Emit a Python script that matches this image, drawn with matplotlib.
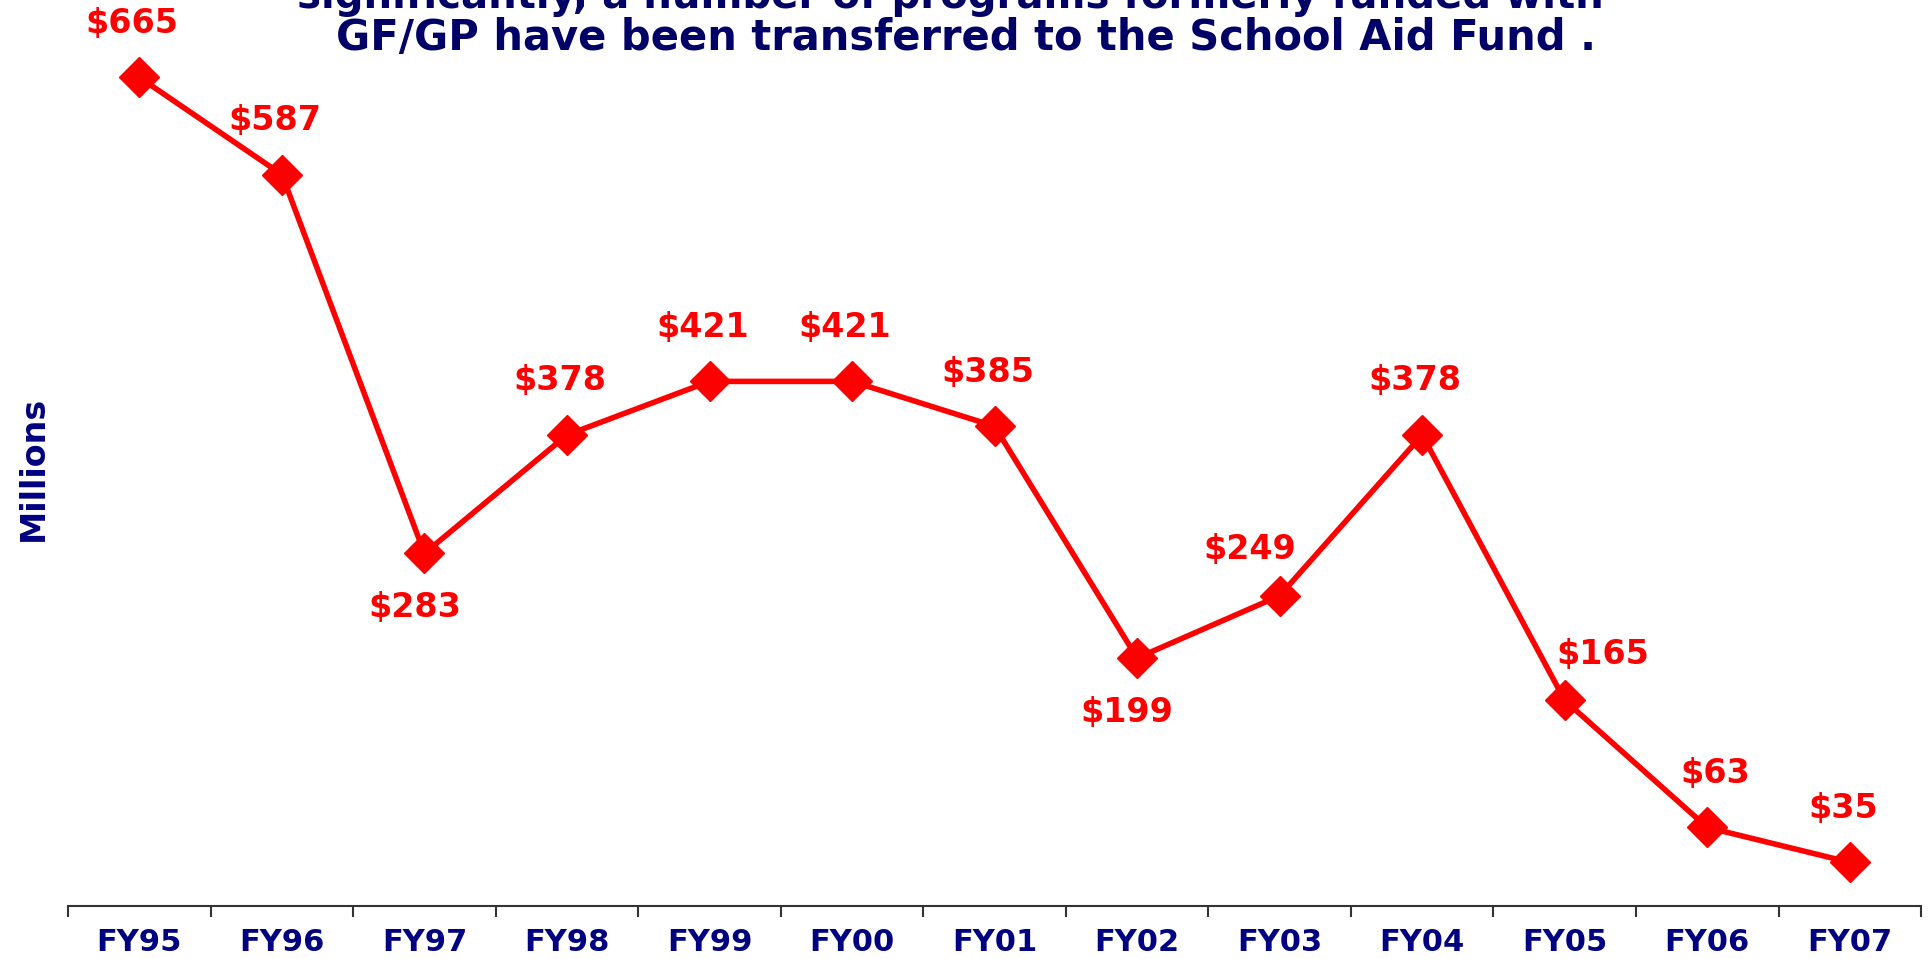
#!/usr/bin/env python3
import matplotlib
matplotlib.use('Agg')
import matplotlib.pyplot as plt
import numpy as np

years = ['FY95', 'FY96', 'FY97', 'FY98', 'FY99', 'FY00', 'FY01',
         'FY02', 'FY03', 'FY04', 'FY05', 'FY06', 'FY07']
amounts = [665, 587, 283, 378, 421, 421, 385, 199, 249, 378, 165, 63, 35]

# the top line of the title is cut by the slide edge in the source
title_top = 'significantly, a number of programs formerly funded with'
title_bottom = 'GF/GP have been transferred to the School Aid Fund .'

NAVY = '#000066'
TICK_NAVY = '#000080'
RED = '#ff0000'

# label offsets in pixels (most sit above the point, two dips go below)
label_offsets = {i: (-7, 54) for i in range(len(years))}
label_offsets[2] = (-10, -54)
label_offsets[7] = (-10, -54)
label_offsets[8] = (-30, 46)
label_offsets[10] = (38, 46)
label_offsets[11] = (8, 54)

plt.rcParams.update({
    'font.family': ['DejaVu Sans'],
    'font.weight': 'bold',
})

fig = plt.figure(figsize=(19.29, 9.59), dpi=100)
ax = fig.add_axes([0.0353, 0.0553, 0.9606, 0.9095])

x = np.arange(len(years))
ax.plot(x, amounts, color=RED, linewidth=4, marker='D', markersize=20,
        markeredgecolor=RED, markerfacecolor=RED, zorder=3, clip_on=False)

for i, v in enumerate(amounts):
    dx, dy = label_offsets[i]
    ax.annotate(f'${v}', (x[i], v), xytext=(dx, dy), textcoords='offset pixels',
                ha='center', va='center', color=RED, fontsize=24, fontweight='bold')

ax.set_xlim(-0.5, len(years) - 0.5)
ax.set_ylim(0, 700)

for side in ['left', 'right', 'top']:
    ax.spines[side].set_visible(False)
ax.spines['bottom'].set_color('#333333')
ax.spines['bottom'].set_linewidth(1.5)

ax.set_yticks([])
ax.set_xticks(x)
ax.set_xticklabels(years, color=TICK_NAVY, fontsize=22, fontweight='bold')
ax.set_xticks(np.arange(-0.5, len(years)), minor=True)
ax.tick_params(axis='x', which='major', length=0, pad=16)
ax.tick_params(axis='x', which='minor', length=8, width=1.5, color='#333333', direction='out')

fig.text(33 / 1929, 1 - 468 / 959, 'Millions', rotation=90, ha='center', va='center',
         color=TICK_NAVY, fontsize=24, fontweight='bold')

fig.text(950 / 1929, 1 - 8 / 959, title_top, ha='center', va='baseline',
         color=NAVY, fontsize=29, fontweight='bold')
fig.text(966 / 1929, 1 - 50 / 959, title_bottom, ha='center', va='baseline',
         color=NAVY, fontsize=30, fontweight='bold')

fig.savefig('out.png', dpi=100)
